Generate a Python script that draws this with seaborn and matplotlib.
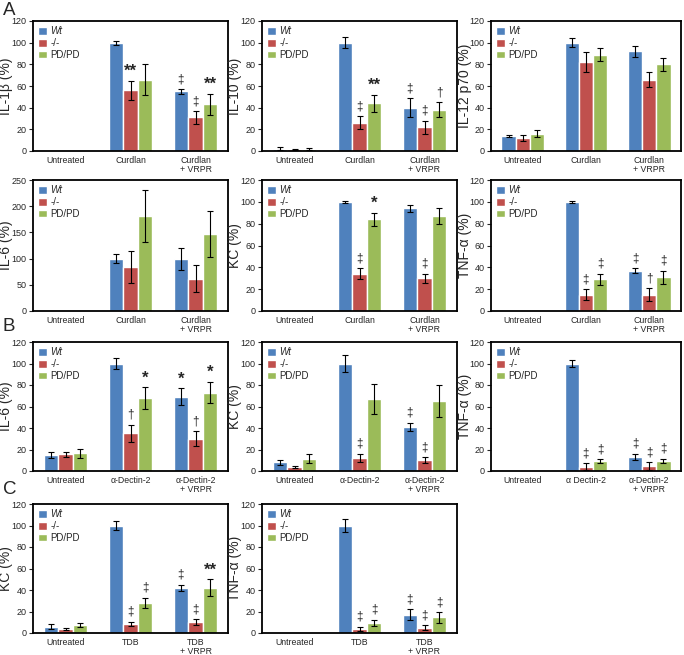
import pandas as pd
import matplotlib
matplotlib.use("Agg")
import matplotlib.pyplot as plt
import seaborn as sns

sns.set_style("white")
plt.rcParams["font.family"] = ["Liberation Sans", "DejaVu Sans"]

genotypes = ["Wt", "-/-", "PD/PD"]
colors = ["#4F81BD", "#C0504D", "#9BBB59"]

curdlan_groups = ["Untreated", "Curdlan", "Curdlan\n+ VRPR"]
dectin_groups = ["Untreated", "α-Dectin-2", "α-Dectin-2\n+ VRPR"]
dectin_groups_tnf = ["Untreated", "α Dectin-2", "α-Dectin-2\n+ VRPR"]
tdb_groups = ["Untreated", "TDB", "TDB\n+ VRPR"]

# rows = genotype (Wt, -/-, PD/PD), columns = treatment group
il1b_mean = [[0.4, 100, 55], [0.4, 56, 31], [0.4, 66, 43]]
il1b_err = [[0, 2, 2], [0, 9, 6], [0, 14, 10]]
il1b_marks = [["", "", "‡"], ["", "**", "‡"], ["", "", "**"]]

il10_mean = [[2, 100, 40], [1.5, 26, 22], [1.5, 44, 38]]
il10_err = [[1.5, 5, 9], [0.5, 6, 6], [1, 8, 7]]
il10_marks = [["", "", "‡"], ["", "‡", "‡"], ["", "**", "†"]]

il12_mean = [[14, 100, 92], [12, 82, 66], [16, 89, 80]]
il12_err = [[1, 4, 5], [2.5, 9, 7], [3, 6, 6]]
il12_marks = [["", "", ""], ["", "", ""], ["", "", ""]]

il6c_mean = [[0, 100, 100], [0, 84, 62], [0, 181, 147]]
il6c_err = [[0, 9, 21], [0, 31, 26], [0, 50, 43]]
il6c_marks = [["", "", ""], ["", "", ""], ["", "", ""]]

kcc_mean = [[0, 100, 94], [0, 34, 30], [0, 84, 87]]
kcc_err = [[0, 1, 3], [0, 5, 4], [0, 6, 7]]
kcc_marks = [["", "", ""], ["", "‡", "‡"], ["", "*", ""]]

tnfc_mean = [[0, 100, 37], [0, 15, 15], [0, 29, 31]]
tnfc_err = [[0, 1, 2], [0, 5, 6], [0, 5, 6]]
tnfc_marks = [["", "", "‡"], ["", "‡", "†"], ["", "‡", "‡"]]

il6d_mean = [[15, 100, 69], [15.5, 35, 30], [16.5, 68, 73]]
il6d_err = [[3, 5, 8], [2.5, 8, 7], [4, 10, 10]]
il6d_marks = [["", "", "*"], ["", "†", "†"], ["", "*", "*"]]

kcd_mean = [[8, 100, 41], [4, 12, 10], [11.5, 67, 65]]
kcd_err = [[2, 8, 4], [1, 4, 3], [4.5, 14, 15]]
kcd_marks = [["", "", "‡"], ["", "‡", "‡"], ["", "", ""]]

tnfd_mean = [[0, 100, 13], [0, 4, 4.5], [0, 9, 9.5]]
tnfd_err = [[0, 3, 3], [0, 3, 3.5], [0, 2, 2]]
tnfd_marks = [["", "", "‡"], ["", "‡", "‡"], ["", "‡", "‡"]]

kct_mean = [[6, 100, 42], [4, 8.5, 10], [7.5, 28, 42]]
kct_err = [[2, 4, 3], [1, 2, 3], [2, 5, 8]]
kct_marks = [["", "", "‡"], ["", "‡", "‡"], ["", "‡", "**"]]

tnft_mean = [[0.4, 100, 17], [0, 4, 5], [0, 9.5, 14.5]]
tnft_err = [[0, 6, 5], [0, 2, 2], [0, 3, 5]]
tnft_marks = [["", "", "‡"], ["", "‡", "‡"], ["", "‡", "‡"]]

panels = [
    ("IL-1β (%)", curdlan_groups, il1b_mean, il1b_err, il1b_marks, 120),
    ("IL-10 (%)", curdlan_groups, il10_mean, il10_err, il10_marks, 120),
    ("IL-12 p70 (%)", curdlan_groups, il12_mean, il12_err, il12_marks, 120),
    ("IL-6 (%)", curdlan_groups, il6c_mean, il6c_err, il6c_marks, 250),
    ("KC (%)", curdlan_groups, kcc_mean, kcc_err, kcc_marks, 120),
    ("TNF-α (%)", curdlan_groups, tnfc_mean, tnfc_err, tnfc_marks, 120),
    ("IL-6 (%)", dectin_groups, il6d_mean, il6d_err, il6d_marks, 120),
    ("KC (%)", dectin_groups, kcd_mean, kcd_err, kcd_marks, 120),
    ("TNF-α (%)", dectin_groups_tnf, tnfd_mean, tnfd_err, tnfd_marks, 120),
    ("KC (%)", tdb_groups, kct_mean, kct_err, kct_marks, 120),
    ("TNF-α (%)", tdb_groups, tnft_mean, tnft_err, tnft_marks, 120),
]

W, H = 684, 655
cols = [(33, 228), (262, 457), (491, 681)]
rows = [(21, 151), (180, 311), (342, 471), (504, 633)]

fig = plt.figure(figsize=(W / 100, H / 100), dpi=100)

for k, (ylabel, groups, mean, err, marks, ymax) in enumerate(panels):
    r, c = divmod(k, 3)
    x0, x1 = cols[c]
    y0, y1 = rows[r]
    ax = fig.add_axes([x0 / W, 1 - y1 / H, (x1 - x0) / W, (y1 - y0) / H])

    df = pd.DataFrame({
        "group": [g for h in range(3) for g in groups],
        "genotype": [genotypes[h] for h in range(3) for g in groups],
        "value": [v for row in mean for v in row],
    })
    sns.barplot(data=df, x="group", y="value", hue="genotype", order=groups,
                hue_order=genotypes, palette=colors, saturation=1, width=0.67,
                errorbar=None, ax=ax)

    bar_sets = list(ax.containers)
    for h, cont in enumerate(bar_sets):
        for i, bar in enumerate(cont):
            xc = bar.get_x() + bar.get_width() / 2
            if err[h][i] > 0:
                ax.errorbar(xc, mean[h][i], yerr=err[h][i], fmt="none",
                            ecolor="black", elinewidth=0.8, capsize=2, capthick=0.8)
            m = marks[h][i]
            if m:
                top = mean[h][i] + err[h][i]
                if "*" in m:
                    ax.text(xc, top + ymax * 0.012, m, ha="center", va="bottom",
                            fontsize=12, fontweight="bold")
                else:
                    ax.text(xc, top + ymax * 0.03, m, ha="center", va="bottom",
                            fontsize=8.5)

    ax.set_ylim(0, ymax)
    ax.set_yticks(range(0, ymax + 1, 50 if ymax > 120 else 20))
    ax.set_xlim(-0.5, 2.5)
    ax.set_xlabel("")
    ax.set_ylabel(ylabel, fontsize=10)
    ax.yaxis.set_label_coords(-19.5 / (x1 - x0), 0.5)
    ax.tick_params(axis="y", left=True, length=3, width=0.8, labelsize=6.5, pad=1.5)
    ax.tick_params(axis="x", bottom=False, labelsize=6.3, pad=0.3)
    for lab in ax.get_xticklabels():
        lab.set_linespacing(0.9)
    for s in ax.spines.values():
        s.set_color("black")
        s.set_linewidth(1.3)

    leg = ax.legend(loc="upper left", frameon=False, fontsize=7, handlelength=0.85,
                    handleheight=0.85, handletextpad=0.4, labelspacing=0.18,
                    borderaxespad=0.15)
    leg.get_texts()[0].set_style("italic")

fig.text(3 / W, 1 - 2 / H, "A", fontsize=13.5, va="top")
fig.text(3 / W, 1 - 318 / H, "B", fontsize=13.5, va="top")
fig.text(3 / W, 1 - 481 / H, "C", fontsize=13.5, va="top")

fig.savefig("out.png", dpi=100)
